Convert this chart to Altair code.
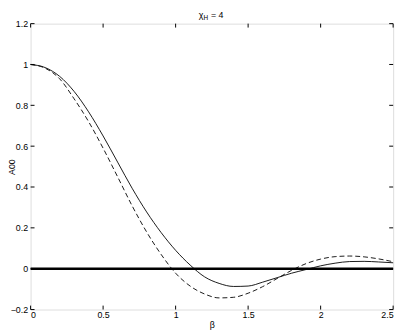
import altair as alt
import pandas as pd

beta = [0.0, 0.1, 0.2, 0.3, 0.4, 0.5, 0.6, 0.7, 0.8, 0.9, 1.0, 1.1, 1.2,
        1.3, 1.4, 1.5, 1.6, 1.7, 1.8, 1.9, 2.0, 2.1, 2.2, 2.3, 2.4, 2.5]
solid = [1.000, 0.985, 0.942, 0.868, 0.768, 0.650, 0.522, 0.394, 0.278, 0.177,
         0.090, 0.018, -0.040, -0.072, -0.087, -0.085, -0.066, -0.044, -0.022,
         -0.004, 0.014, 0.027, 0.035, 0.036, 0.033, 0.029]
dashed = [1.000, 0.982, 0.930, 0.832, 0.720, 0.590, 0.450, 0.308, 0.180, 0.070,
          -0.022, -0.085, -0.124, -0.143, -0.140, -0.120, -0.088, -0.048, -0.008,
          0.025, 0.047, 0.059, 0.062, 0.058, 0.048, 0.034]
x_ticks = [0, 0.5, 1, 1.5, 2, 2.5]
y_ticks = [-0.2, 0, 0.2, 0.4, 0.6, 0.8, 1.0, 1.2]

W, H = 369, 291
FONT = "Liberation Sans"

df = pd.DataFrame({"beta": beta, "solid": solid, "dashed": dashed})
xt = pd.DataFrame({"v": x_ticks})
yt = pd.DataFrame({"v": y_ticks})

xs = alt.Scale(domain=[0, 2.5], nice=False, zero=False)
ys = alt.Scale(domain=[-0.2, 1.2], nice=False, zero=False)

xaxis = alt.Axis(values=x_ticks, format="~g", domain=False, ticks=False, grid=False,
                 labelPadding=1, labelFontSize=9, labelFont=FONT, labelColor="black",
                 title="β", titleFont=FONT, titleFontSize=9, titleFontWeight="normal",
                 titleColor="black", titlePadding=1)
yaxis = alt.Axis(values=y_ticks, format="~g", domain=False, ticks=False, grid=False,
                 labelPadding=3, labelFontSize=9, labelFont=FONT, labelColor="black",
                 title="A00", titleFont=FONT, titleFontSize=9, titleFontWeight="normal",
                 titleColor="black", titleX=-16, titleY=H / 2, titleBaseline="alphabetic")

base = alt.Chart(df)

solid_line = base.mark_line(color="black", strokeWidth=0.9, interpolate="monotone").encode(
    x=alt.X("beta:Q", scale=xs, axis=xaxis),
    y=alt.Y("solid:Q", scale=ys, axis=yaxis),
)
dashed_line = base.mark_line(color="black", strokeWidth=0.9, strokeDash=[5, 3],
                             interpolate="monotone").encode(
    x=alt.X("beta:Q", scale=xs),
    y=alt.Y("dashed:Q", scale=ys),
)
zero_line = alt.Chart(pd.DataFrame({"z": [0]})).mark_rule(color="black", strokeWidth=2.5).encode(
    y=alt.Y("z:Q", scale=ys)
)

tick_len = 4
xt_bottom = alt.Chart(xt).mark_rule(color="black", strokeWidth=1).encode(
    x=alt.X("v:Q", scale=xs), y=alt.value(H), y2=alt.value(H - tick_len))
xt_top = alt.Chart(xt).mark_rule(color="black", strokeWidth=1).encode(
    x=alt.X("v:Q", scale=xs), y=alt.value(0), y2=alt.value(tick_len))
yt_left = alt.Chart(yt).mark_rule(color="black", strokeWidth=1).encode(
    y=alt.Y("v:Q", scale=ys), x=alt.value(0), x2=alt.value(tick_len))
yt_right = alt.Chart(yt).mark_rule(color="black", strokeWidth=1).encode(
    y=alt.Y("v:Q", scale=ys), x=alt.value(W - tick_len), x2=alt.value(W))

title_df = pd.DataFrame({"t": ["x"]})
t_chi = alt.Chart(title_df).mark_text(text="χ", font=FONT, fontSize=9, align="center",
                                      baseline="alphabetic", color="black").encode(
    x=alt.value(W / 2 - 11), y=alt.value(-6))
t_sub = alt.Chart(title_df).mark_text(text="H", font=FONT, fontSize=6.5, align="left",
                                      baseline="alphabetic", color="black").encode(
    x=alt.value(W / 2 - 8.5), y=alt.value(-4))
t_rest = alt.Chart(title_df).mark_text(text="= 4", font=FONT, fontSize=9, align="left",
                                       baseline="alphabetic", color="black").encode(
    x=alt.value(W / 2 - 1), y=alt.value(-6))

chart = alt.layer(
    zero_line, dashed_line, solid_line,
    xt_bottom, xt_top, yt_left, yt_right,
    t_chi, t_sub, t_rest,
).properties(
    width=W, height=H,
    autosize=alt.AutoSizeParams(type="none"),
    padding={"left": 23, "top": 13, "right": 8, "bottom": 23},
).configure_view(
    stroke="black", strokeWidth=1
).configure(background="white")

chart.save("out.html", embed_options={"renderer": "svg", "actions": False})
